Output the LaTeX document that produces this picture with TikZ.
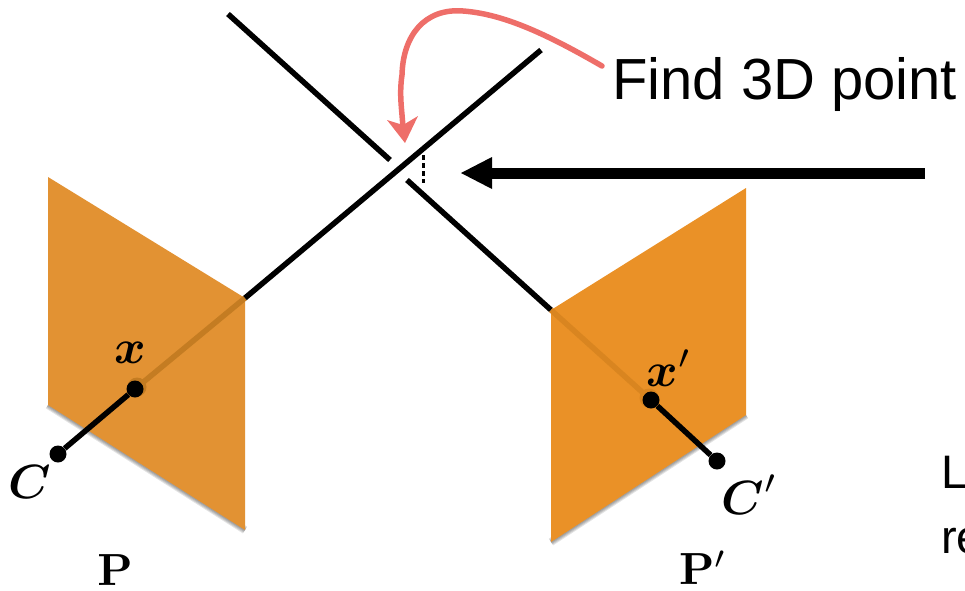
\documentclass[tikz,border=0pt]{standalone}
\usepackage{amsmath,amssymb}
\usepackage[no-math]{fontspec}
\setmainfont{Liberation Sans}
\usetikzlibrary{calc}
\definecolor{planeL}{HTML}{E29233}
\definecolor{planeR}{HTML}{EA9127}
\definecolor{rayinL}{HTML}{C47C22}
\definecolor{rayinR}{HTML}{D98520}
\definecolor{redpen}{HTML}{EE6E69}
\tikzset{
  plane shadow/.style={line width=#1,draw=black,draw opacity=0.11},
  ray/.style={line width=5.5pt,black},
  dot/.style={circle,fill=black,inner sep=0pt,minimum size=17pt},
  mathlabel/.style={inner sep=0pt,scale=4.8,black},
  matlabel/.style={inner sep=0pt,scale=4.5,black},
  pseudo/.style={inner sep=0pt,anchor=base west,font=\fontsize{58}{58}\selectfont,black},
  sidetext/.style={inner sep=0pt,anchor=base west,font=\fontsize{47}{47}\selectfont,black}
}
\begin{document}
\begin{tikzpicture}[x=1pt,y=-1pt]
\useasboundingbox (0,0) rectangle (965,590);
\clip (0,0) rectangle (965,590);
% plane corners
\coordinate (la) at (48,177);
\coordinate (lb) at (245,298);
\coordinate (lc) at (245,530);
\coordinate (ld) at (48,405);
\coordinate (ra) at (551,310);
\coordinate (rb) at (746,188);
\coordinate (rc) at (746,415);
\coordinate (rd) at (551,542);
% soft shadows on the lower edges
\foreach \w in {2,4,6,8}{
  \draw[plane shadow=\w pt] (ld) -- (lc);
  \draw[plane shadow=\w pt] (rd) -- (rc);
}
\fill[planeL] (la) -- (lb) -- (lc) -- (ld) -- cycle;
\fill[planeR] (ra) -- (rb) -- (rc) -- (rd) -- cycle;
% halos under the image points
\fill[rayinL] (137,387) circle (9.5pt);
\fill[rayinR] (649,398) circle (9.5pt);
% points
\node[dot] (C) at (58,454) {};
\node[dot] (x) at (135,389) {};
\node[dot] (Cp) at (717,461) {};
\node[dot] (xp) at (651,400) {};
\coordinate (lend) at (541,50);
\coordinate (lgapa) at (390,160);
\coordinate (rstart) at (228,14);
\coordinate (rgapb) at (407,180);
% rays
\draw[line width=5.5pt,rayinL] (x) -- (lb);
\draw[ray] (lb) -- (lend);
\draw[ray] (C) -- (x);
\draw[ray] (rstart) -- (lgapa);
\draw[ray] (rgapb) -- (ra);
\draw[line width=5.5pt,rayinR] (ra) -- (xp);
\draw[ray] (xp) -- (Cp);
% gap marker
\coordinate (gtop) at (423,155);
\coordinate (gbot) at (423,183);
\draw[line width=3pt,dash pattern=on 5pt off 3pt,black] (gtop) -- (gbot);
% big arrow
\coordinate (atail) at (925,173);
\coordinate (ashaft) at (490,173);
\coordinate (atip) at (461,173);
\draw[line width=11pt,black] (atail) -- (ashaft);
\fill[black] (atip) -- (492,157) -- (492,189) -- cycle;
% red hand-drawn arrow
\coordinate (pstart) at (602,66);
\coordinate (ptop) at (463,11);
\coordinate (pmid) at (402,75);
\coordinate (pend) at (403,128);
\coordinate (ptip) at (405,143);
\draw[line width=5.5pt,redpen,line cap=round]
  (pstart) .. controls (550,36) and (505,14) .. (ptop)
  .. controls (425,8) and (403,35) .. (pmid)
  .. controls (399,95) and (402,110) .. (pend);
\fill[redpen] (387,120) -- (403,125) -- (418,116) -- (ptip) -- cycle;
% labels
\node[pseudo] (find) at (612,99) {Find 3D point};
\node[sidetext] (le) at (941,488) {Le};
\node[sidetext] (re) at (941,553) {re};
\node[mathlabel] (xl) at (130,353) {$\boldsymbol{x}$};
\node[mathlabel] (xpl) at (669,368) {$\boldsymbol{x}'$};
\node[mathlabel] (Cl) at (30,482) {$\boldsymbol{C}$};
\node[mathlabel] (Cpl) at (750,495) {$\boldsymbol{C}'$};
\node[matlabel] (Pl) at (115,570) {$\mathbf{P}$};
\node[matlabel] (Ppl) at (703,568) {$\mathbf{P}'$};
\end{tikzpicture}
\end{document}
